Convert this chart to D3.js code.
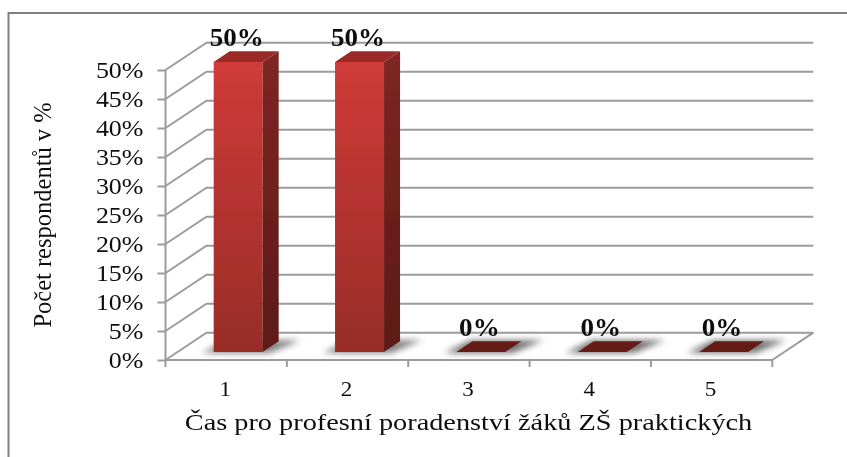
<!DOCTYPE html>
<html><head><meta charset="utf-8">
<script src="https://cdn.jsdelivr.net/npm/d3@7/dist/d3.min.js"></script>
<style>html,body{margin:0;padding:0;background:#fff}svg{display:block}text{font-family:"Liberation Serif",serif;fill:#111}</style>
</head><body><div id="c"></div>
<script>
const categories = ["1","2","3","4","5"];
const values = [50,50,0,0,0];
const yTicks = [0,5,10,15,20,25,30,35,40,45,50];
const yTitle = "Počet respondentů v %";
const xTitle = "Čas pro profesní poradenství žáků ZŠ praktických";

const W=847,H=457, depthX=41, depthY=27.3;
const x=d3.scaleBand().domain(categories).range([165.5,772.3]);
const y=d3.scaleLinear().domain([0,50]).range([360,70]);
const svg=d3.select("#c").append("svg").attr("width",W).attr("height",H);
const defs=svg.append("defs");
const blur=(id,s)=>defs.append("filter").attr("id",id).attr("x","-30%").attr("y","-60%").attr("width","160%").attr("height","220%").append("feGaussianBlur").attr("stdDeviation",s);
blur("soft",0.5); blur("shadow",3);
const grad=(id,a,b)=>{const g=defs.append("linearGradient").attr("id",id).attr("x1",0).attr("y1",0).attr("x2",0).attr("y2",1);
  g.append("stop").attr("offset",0).attr("stop-color",a);g.append("stop").attr("offset",1).attr("stop-color",b);};
grad("front","#cf3b37","#982c28");
grad("side","#7f2622","#5c1a18");

const root=svg.append("g").attr("filter","url(#soft)");
root.append("path").attr("d",`M8.5,${H+5}V13H${W+5}`).attr("fill","none").attr("stroke","#808080").attr("stroke-width",2);

const x0=x.range()[0],x1=x.range()[1],gc="#9c9c9c",lw=2;
const grid=root.append("g").attr("fill","none").attr("stroke",gc).attr("stroke-width",lw);
yTicks.forEach(t=>{
  grid.append("path").attr("d",`M${x0},${y(t)}l${depthX},${-depthY}H${x1+depthX}`);
});
grid.append("path").attr("d",`M${x1},${y(0)}l${depthX},${-depthY}`);

const sx=1.13;
const ax=root.append("g").attr("transform",`translate(${x0},0)`).call(d3.axisLeft(y).tickValues(yTicks).tickSize(8).tickFormat(d=>d+"%"));
ax.selectAll("line,path").attr("stroke",gc).attr("stroke-width",lw);
ax.select("path").attr("d",`M0,${y(50)}V${y(0)}`);
ax.selectAll("text").attr("x",0).attr("dy",0).attr("y",7.5).attr("text-anchor","end").attr("font-size",23)
  .attr("font-family","Liberation Serif").attr("fill","#111").attr("transform",`translate(-22,0) scale(${sx},1)`);
const bx=root.append("g").attr("transform",`translate(0,${y(0)})`);
bx.append("path").attr("d",`M${x0},0H${x1}`).attr("stroke",gc).attr("stroke-width",lw);
const edges=[x0,...categories.map(c=>x(c)+x.bandwidth())];
bx.selectAll("line").data(edges).join("line").attr("x1",d=>d).attr("x2",d=>d).attr("y1",0).attr("y2",7).attr("stroke",gc).attr("stroke-width",lw);
bx.selectAll("text").data(categories).join("text").attr("text-anchor","middle").attr("font-size",21)
  .attr("transform",d=>`translate(${x(d)+x.bandwidth()/2-1},36) scale(1.1,1)`).text(d=>d);

const shiftX=12, shiftY=8, bw=49, dX=16, dY=10.7;
const left=c=>x(c)+x.bandwidth()/2-bw/2+shiftX;
const base=y(0)-shiftY;
const hgt=v=>y(0)-y(v);
const bars=root.append("g");
categories.forEach((c,i)=>{
  const v=values[i],l=left(c),t=base-hgt(v),g=bars.append("g");
  g.append("path").attr("d",`M${l-12},${base+1}H${l+bw+7}L${l+bw+dX+22},${base-dY-1}H${l+dX-2}Z`)
    .attr("fill",v>0?"#808080":"#707070").attr("filter","url(#shadow)");
  if(v>0){
    g.append("rect").attr("x",l).attr("y",t).attr("width",bw).attr("height",hgt(v)).attr("fill","url(#front)");
    g.append("path").attr("d",`M${l+bw},${t}l${dX},${-dY}V${base-dY}l${-dX},${dY}Z`).attr("fill","url(#side)");
    g.append("path").attr("d",`M${l},${t}l${dX},${-dY}h${bw}l${-dX},${dY}Z`).attr("fill","#9a2b27");
  } else {
    g.append("path").attr("d",`M${l},${t}l${dX},${-dY}h${bw}l${-dX},${dY}Z`).attr("fill","#651b19");
  }
});
const labels=root.append("g");
categories.forEach((c,i)=>{
  const v=values[i];
  labels.append("text").attr("text-anchor","middle").attr("font-weight","bold").attr("font-size",26).attr("fill","#000")
    .attr("transform",`translate(${left(c)+bw/2-1.5},${base-hgt(v)-16}) scale(1.04,1)`).text(v+"%");
});
root.append("text").attr("text-anchor","middle").attr("font-size",24.5)
  .attr("transform",`translate(51,215) rotate(-90)`).text(yTitle);
root.append("text").attr("text-anchor","middle").attr("font-size",24)
  .attr("transform",`translate(468.5,430) scale(1.18,1)`).text(xTitle);
</script></body></html>
